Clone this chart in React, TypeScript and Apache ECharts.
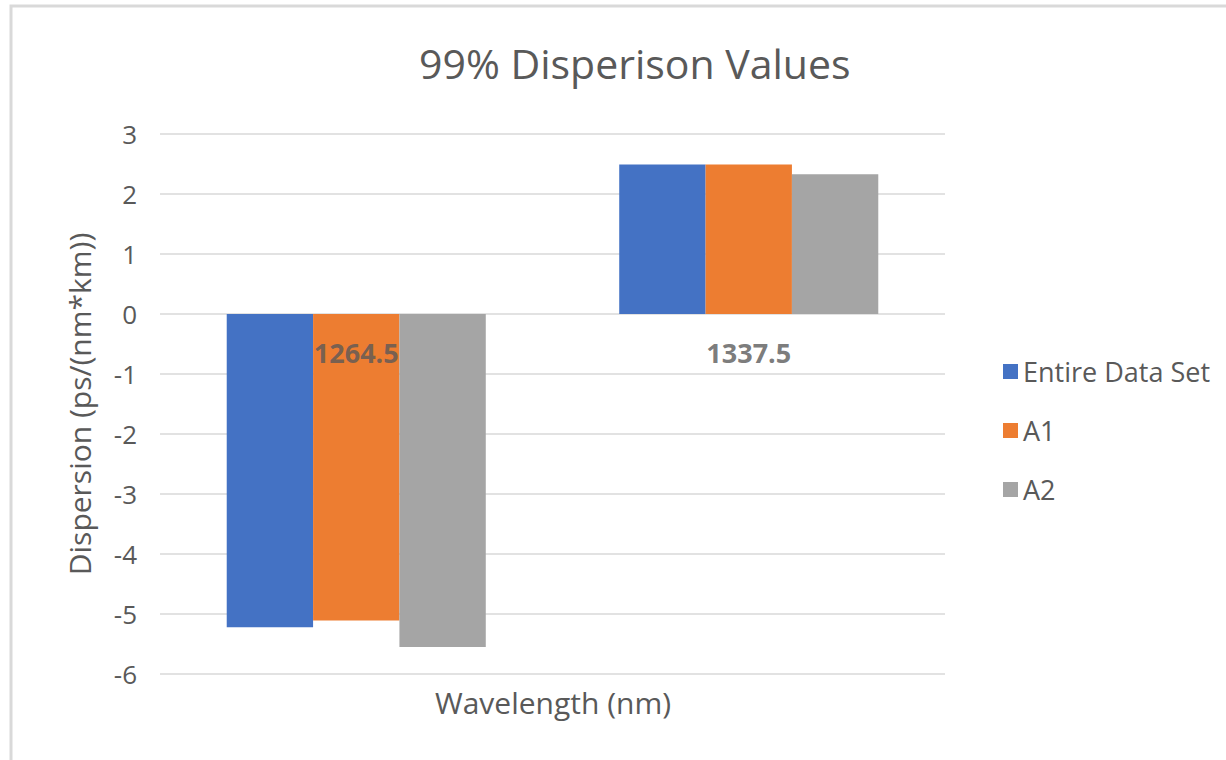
import React, { useEffect, useRef } from "react";
import * as echarts from "echarts";

const categories = ["1264.5", "1337.5"];
const seriesNames = ["Entire Data Set", "A1", "A2"];
const entireData = [-5.22, 2.49];
const a1Data = [-5.11, 2.49];
const a2Data = [-5.55, 2.33];
const colors = ["#4472C4", "#ED7D31", "#A5A5A5"];
const FONT = "Open Sans";
const TXT = "#595959";

export default function App() {
  const ref = useRef<HTMLDivElement>(null);
  useEffect(() => {
    if (!ref.current) return;
    const chart = echarts.init(ref.current, null, { renderer: "svg" });
    const values = [entireData, a1Data, a2Data];
    const barSeries = seriesNames.map((name, i) => ({
      name,
      type: "bar",
      data: values[i],
      barWidth: "22%",
      barGap: "0%",
      barCategoryGap: "33%",
      itemStyle: { color: colors[i] },
    }));
    chart.setOption({
      animation: false,
      backgroundColor: "#ffffff",
      textStyle: { fontFamily: FONT },
      title: {
        text: "99% Disperison Values",
        left: 414,
        top: 37,
        textStyle: { fontFamily: FONT, fontSize: 41, fontWeight: "normal", color: TXT },
      },
      legend: {
        orient: "vertical",
        left: 998,
        top: 353,
        itemWidth: 15,
        itemHeight: 15,
        itemGap: 32,
        icon: "rect",
        data: seriesNames,
        textStyle: { fontFamily: FONT, fontSize: 27, color: TXT },
      },
      grid: { left: 160, right: 281, top: 134, bottom: 86 },
      xAxis: {
        type: "category",
        data: categories,
        axisLine: { show: false },
        axisTick: { show: false },
        axisLabel: { show: false },
      },
      yAxis: {
        type: "value",
        min: -6,
        max: 3,
        interval: 1,
        name: "Dispersion (ps/(nm*km))",
        nameLocation: "middle",
        nameGap: 66,
        nameTextStyle: { fontFamily: FONT, fontSize: 30, color: TXT },
        axisLine: { show: false },
        axisTick: { show: false },
        axisLabel: { fontFamily: FONT, fontSize: 26, color: TXT, margin: 23 },
        splitLine: { lineStyle: { color: "#d9d9d9", width: 1.5 } },
      },
      series: [
        ...barSeries,
        {
          name: "categoryLabels",
          type: "scatter",
          data: categories.map((c) => [c, 0]),
          symbolSize: 0,
          silent: true,
          z: 10,
          label: {
            show: true,
            position: "bottom",
            distance: 25,
            formatter: (p: any) => categories[p.dataIndex],
            fontFamily: FONT,
            fontSize: 27,
            fontWeight: "bold",
            color: TXT,
          },
        },
      ],
      graphic: [
        {
          type: "rect",
          shape: { x: 11, y: 6, width: 1300, height: 900 },
          style: { fill: "none", stroke: "#d9d9d9", lineWidth: 3 },
          silent: true,
        },
        {
          type: "text",
          x: 553,
          y: 702,
          style: {
            text: "Wavelength (nm)",
            fontFamily: FONT,
            fontSize: 30,
            fill: TXT,
            align: "center",
            verticalAlign: "middle",
          },
        },
      ],
    });
    return () => chart.dispose();
  }, []);
  return (
    <div
      ref={ref}
      style={{ position: "fixed", left: 0, top: 0, width: 1226, height: 760 }}
    />
  );
}
